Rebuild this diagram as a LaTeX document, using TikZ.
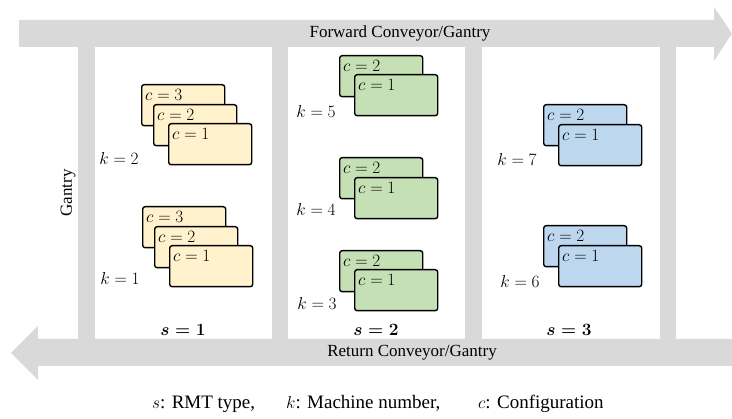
\documentclass[tikz,border=0pt]{standalone}
\usepackage{fontspec}
\setmainfont{Liberation Serif}
\usepackage{amsmath}
\definecolor{rail}{HTML}{D9D9D9}
\definecolor{cyellow}{HTML}{FFF2CC}
\definecolor{cgreen}{HTML}{C5E0B4}
\definecolor{cblue}{HTML}{BDD7EE}
\begin{document}
\begin{tikzpicture}[x=1pt,y=-1pt,
  railshape/.style={fill=rail,draw=none},
  card/.style={draw=black,line width=1.4pt,rounded corners=2.5pt,minimum width=83pt,minimum height=41pt,anchor=north west,inner sep=0pt},
  ctext/.style={anchor=north west,inner sep=0pt,xshift=4pt,yshift=-5pt,font=\fontsize{16.5}{18}\selectfont},
  klabel/.style={font=\fontsize{16.5}{18}\selectfont,inner sep=0pt},
  slabel/.style={font=\fontsize{16.5}{18}\selectfont\boldmath,inner sep=0pt},
  raillabel/.style={font=\fontsize{17}{20}\selectfont,inner sep=0pt},
  legend/.style={font=\fontsize{19}{22}\selectfont,inner sep=0pt,anchor=base west}]
\useasboundingbox (0,0) rectangle (732,419);
% rails
\fill[railshape] (19,20) -- (714,20) -- (714,7) -- (732,33.5) -- (714,61) -- (714,47) -- (19,47) -- cycle;
\fill[railshape] (732,339) -- (38,339) -- (38,326) -- (11,353) -- (38,380) -- (38,366) -- (732,366) -- cycle;
\fill[railshape] (78,47) rectangle (95,339);
\fill[railshape] (272,47) rectangle (288,339);
\fill[railshape] (465,47) rectangle (482,339);
\fill[railshape] (660,47) rectangle (676,339);
\node[raillabel] (fwd) at (400,33) {Forward Conveyor/Gantry};
\node[raillabel] (ret) at (412,353) {Return Conveyor/Gantry};
\node[raillabel,rotate=90] (gan) at (68,193) {Gantry};
% s = 1, yellow
\node[card,fill=cyellow,label={[ctext]north west:$c=3$}] (k2c3) at (141,84) {};
\node[card,fill=cyellow,label={[ctext]north west:$c=2$}] (k2c2) at (153,104) {};
\node[card,fill=cyellow,label={[ctext]north west:$c=1$}] (k2c1) at (168,123) {};
\node[klabel] (k2) at (119,159) {$k=2$};
\node[card,fill=cyellow,label={[ctext]north west:$c=3$}] (k1c3) at (142,206) {};
\node[card,fill=cyellow,label={[ctext]north west:$c=2$}] (k1c2) at (154,226) {};
\node[card,fill=cyellow,label={[ctext]north west:$c=1$}] (k1c1) at (169,245) {};
\node[klabel] (k1) at (120,279) {$k=1$};
\node[slabel] (s1) at (183,330) {$s=1$};
% s = 2, green
\node[card,fill=cgreen,label={[ctext]north west:$c=2$}] (k5c2) at (339,55) {};
\node[card,fill=cgreen,label={[ctext]north west:$c=1$}] (k5c1) at (354,74) {};
\node[klabel] (k5) at (316,112) {$k=5$};
\node[card,fill=cgreen,label={[ctext]north west:$c=2$}] (k4c2) at (339,157) {};
\node[card,fill=cgreen,label={[ctext]north west:$c=1$}] (k4c1) at (354,177) {};
\node[klabel] (k4) at (316,210) {$k=4$};
\node[card,fill=cgreen,label={[ctext]north west:$c=2$}] (k3c2) at (339,250) {};
\node[card,fill=cgreen,label={[ctext]north west:$c=1$}] (k3c1) at (354,269) {};
\node[klabel] (k3) at (317,304) {$k=3$};
\node[slabel] (s2) at (376,330) {$s=2$};
% s = 3, blue
\node[card,fill=cblue,label={[ctext]north west:$c=2$}] (k7c2) at (543,104) {};
\node[card,fill=cblue,label={[ctext]north west:$c=1$}] (k7c1) at (558,124) {};
\node[klabel] (k7) at (517,160) {$k=7$};
\node[card,fill=cblue,label={[ctext]north west:$c=2$}] (k6c2) at (543,225) {};
\node[card,fill=cblue,label={[ctext]north west:$c=1$}] (k6c1) at (558,245) {};
\node[klabel] (k6) at (520,282) {$k=6$};
\node[slabel] (s3) at (569,330) {$s=3$};
% legend
\node[legend] (ls) at (152,409) {$s$: RMT type,};
\node[legend] (lk) at (286,409) {$k$: Machine number,};
\node[legend] (lc) at (478,409) {$c$: Configuration};
\end{tikzpicture}
\end{document}
